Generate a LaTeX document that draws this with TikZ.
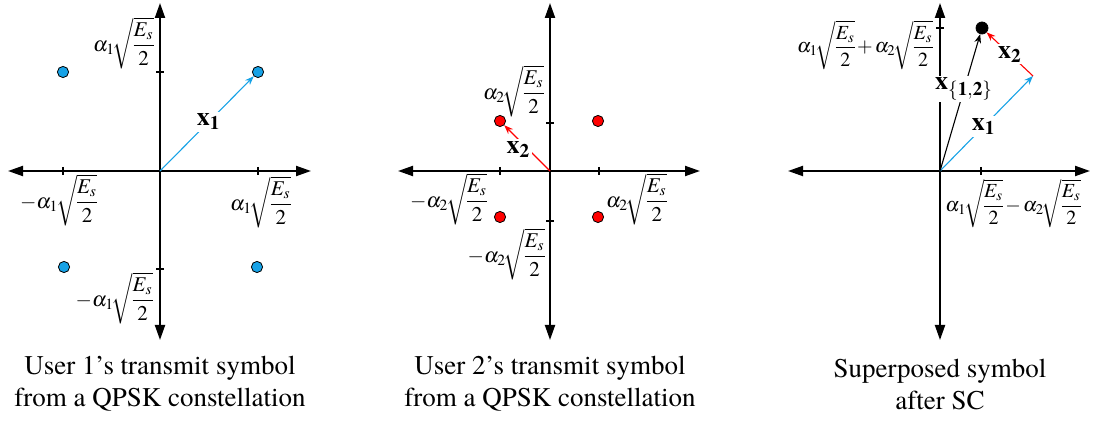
\documentclass[tikz,border=0pt]{standalone}
\usepackage{amsmath}
\usepackage{mathptmx}
\usepackage{fontspec}
\IfFontExistsTF{texgyretermes-regular.otf}
  {\setmainfont{texgyretermes}[Extension=.otf,UprightFont=*-regular,
     BoldFont=*-bold,ItalicFont=*-italic,BoldItalicFont=*-bolditalic]}
  {\setmainfont{Latin Modern Roman}}
\usetikzlibrary{arrows.meta}
\definecolor{symblue}{HTML}{17A2E6}
\definecolor{symred}{HTML}{FF0000}
\nulldelimiterspace=0pt\relax
\medmuskip=2mu plus 1mu minus 2mu\relax
\tikzset{
  >={Stealth[length=4.5pt,width=3.4pt]},
  % achsen
  ax/.style={draw=black,line width=1pt,
    {Triangle[length=7.5pt,width=5pt]}-{Triangle[length=7.5pt,width=5pt]}},
  tk/.style={draw=black,line width=0.8pt},
  sym/.style={circle,draw=black,line width=0.4pt,inner sep=0pt,minimum size=5.6pt},
  sym1/.style={sym,fill=symblue},
  sym2/.style={sym,fill=symred},
  symsc/.style={sym,fill=black,minimum size=6pt},
  % vektoren
  v1/.style={->,draw=symblue,line width=0.55pt},
  v2/.style={->,draw=symred,line width=0.55pt},
  vsc/.style={->,draw=black,line width=0.55pt},
  vl/.style={fill=white,inner sep=1pt,font=\fontsize{13}{15}\selectfont},
  lbl/.style={inner sep=0pt,font=\fontsize{10.5}{12}\selectfont},
  lblsum/.style={inner sep=0pt,font=\fontsize{10}{12}\selectfont},
  captxt/.style={align=center,font=\fontsize{13.5}{16}\selectfont},
}
\newcommand{\amp}[1]{\alpha_{#1}\!\sqrt{\dfrac{E_s}{2}}}

\begin{document}
\begin{tikzpicture}[x=5pt,y=-5pt]
\useasboundingbox (0,0) rectangle (109.6,42.1);
  % --- user 1
  \coordinate (o1) at (16.0,17.1);
  \coordinate (l1) at (0.8,17.1);
  \coordinate (r1) at (31.1,17.1);
  \coordinate (u1) at (16.0,0.3);
  \coordinate (d1) at (16.0,34.0);
  \draw[ax] (l1) -- (r1);
  \draw[ax] (d1) -- (u1);
  \draw[tk] (6.3,16.7) -- (6.3,17.5);
  \draw[tk] (25.8,16.7) -- (25.8,17.5);
  \draw[tk] (15.6,7.2) -- (16.4,7.2);
  \draw[tk] (15.6,26.9) -- (16.4,26.9);
  \node[sym1] (a1) at (6.3,7.2) {};
  \node[sym1] (b1) at (25.8,7.2) {};
  \node[sym1] (c1) at (6.4,26.7) {};
  \node[sym1] (e1) at (25.7,26.7) {};
  \draw[v1] (o1) -- node[vl,pos=0.52] {$\mathbf{x_1}$} (b1);
  \node[lbl,anchor=east] (p1) at (15.4,4.3) {$\amp{1}$};
  \node[lbl] (m1) at (5.85,20.0) {$-\amp{1}$};
  \node[lbl] (q1) at (26.05,20.2) {$\amp{1}$};
  \node[lbl,anchor=east] (n1) at (15.3,29.8) {$-\amp{1}$};
  \node[captxt] (c1t) at (16.0,38.4) {User 1's transmit symbol\\from a QPSK constellation};

  % --- user 2
  \coordinate (o2) at (55.0,17.1);
  \coordinate (l2) at (39.8,17.1);
  \coordinate (r2) at (70.0,17.1);
  \coordinate (u2) at (55.0,0.3);
  \coordinate (d2) at (55.0,34.0);
  \draw[ax] (l2) -- (r2);
  \draw[ax] (d2) -- (u2);
  \draw[tk] (50.0,16.7) -- (50.0,17.5);
  \draw[tk] (59.9,16.7) -- (59.9,17.5);
  \draw[tk] (54.6,12.3) -- (55.4,12.3);
  \draw[tk] (54.6,22.1) -- (55.4,22.1);
  \node[sym2] (a2) at (50.0,12.1) {};
  \node[sym2] (b2) at (59.8,12.1) {};
  \node[sym2] (c2) at (50.0,21.7) {};
  \node[sym2] (e2) at (59.8,21.7) {};
  \draw[v2] (o2) -- node[vl,pos=0.6,xshift=-2pt,yshift=-3pt] {$\mathbf{x_2}$} (a2);
  \node[lbl,anchor=east] (p2) at (54.4,9.1) {$\amp{2}$};
  \node[lbl] (m2) at (44.85,19.9) {$-\amp{2}$};
  \node[lbl] (q2) at (63.65,19.9) {$\amp{2}$};
  \node[lbl,anchor=east] (n2) at (54.5,25.4) {$-\amp{2}$};
  \node[captxt] (c2t) at (55.0,38.4) {User 2's transmit symbol\\from a QPSK constellation};

  % --- superposition
  \coordinate (o3) at (94.0,17.1);
  \coordinate (l3) at (78.8,17.1);
  \coordinate (r3) at (109.0,17.1);
  \coordinate (u3) at (94.0,0.3);
  \coordinate (d3) at (94.0,34.0);
  \coordinate (t3) at (103.3,7.6);
  \draw[ax] (l3) -- (r3);
  \draw[ax] (d3) -- (u3);
  \draw[tk] (98.1,16.7) -- (98.1,17.5);
  \draw[tk] (93.6,2.8) -- (94.4,2.8);
  \node[symsc] (sc) at (98.2,2.8) {};
  \draw[v1] (o3) -- node[vl,pos=0.47] {$\mathbf{x_1}$} (t3);
  \draw[v2] (t3) -- node[vl,pos=0.5] {$\mathbf{x_2}$} (sc);
  \draw[vsc] (o3) -- node[vl,pos=0.6] {$\mathbf{x}_{\{\mathbf{1,2}\}}$} (sc);
  \node[lblsum,anchor=east] (p3) at (93.3,4.5) {$\amp{1}+\amp{2}$};
  \node[lblsum,anchor=west] (q3) at (94.5,20.35) {$\amp{1}-\amp{2}$};
  \node[captxt] (c3t) at (94.0,38.4) {Superposed symbol\\after SC};
\end{tikzpicture}
\end{document}
